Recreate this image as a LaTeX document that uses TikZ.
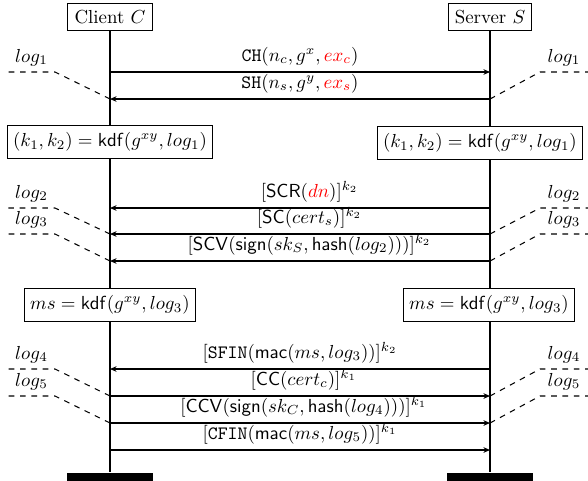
\documentclass[tikz,border=0pt]{standalone}
\usepackage{xcolor}
\usetikzlibrary{arrows.meta}

\begin{document}
\begin{tikzpicture}[x=0.53pt, y=-0.53pt, line width=0.55pt,
  actor/.style={draw, fill=white, inner sep=3.5pt, minimum height=13pt},
  derive/.style={draw, fill=white, inner sep=3pt, minimum height=17.5pt},
  bar/.style={fill=black, minimum width=45.5pt, minimum height=10pt, inner sep=0pt},
  msg/.style={-{Stealth[length=3.5pt, width=3pt]}},
  lbl/.style={above, inner sep=3pt},
  logl/.style={dashed},
  loglbl/.style={above, inner sep=3pt}]

  \useasboundingbox (0,0) rectangle (588,480);

  % participants
  \node[actor] (cli) at (110,17) {Client $C$};
  \node[actor] (srv) at (490,17) {Server $S$};
  \node[bar, anchor=north] (cbar) at (110,472) {};
  \node[bar, anchor=north] (sbar) at (490,472) {};
  \draw (cli.south) -- (cbar.north);
  \draw (srv.south) -- (sbar.north);

  % message heights on both lifelines
  \foreach \i/\y in {1/72, 2/99, 3/208, 4/234, 5/261, 6/369, 7/396, 8/423, 9/450}{
    \coordinate (c\i) at (110,\y);
    \coordinate (s\i) at (490,\y);
  }
  \coordinate (lk) at (55,0);
  \coordinate (le) at (8,0);
  \coordinate (rk) at (540,0);
  \coordinate (re) at (588,0);

  % key derivations
  \node[derive] (kc) at (110,142) {$(k_1, k_2) = \mathsf{kdf}(g^{xy}, log_1)$};
  \node[derive, anchor=east] (ks) at (583,143) {$(k_1, k_2) = \mathsf{kdf}(g^{xy}, log_1)$};
  \node[derive] (mc) at (110,305) {$ms = \mathsf{kdf}(g^{xy}, log_3)$};
  \node[derive] (ms) at (489,305) {$ms = \mathsf{kdf}(g^{xy}, log_3)$};

  % messages
  \draw[msg] (c1) -- node[lbl]{\texttt{CH}$(n_c, g^x, \textcolor{red}{ex_c})$} (s1);
  \draw[msg] (s2) -- node[lbl]{\texttt{SH}$(n_s, g^y, \textcolor{red}{ex_s})$} (c2);
  \draw[msg] (s3) -- node[lbl, xshift=5pt]{$[\mathsf{SCR}(\textcolor{red}{dn})]^{k_2}$} (c3);
  \draw[msg] (s4) -- node[lbl, xshift=5pt]{$[\mathsf{SC}(cert_s)]^{k_2}$} (c4);
  \draw[msg] (s5) -- node[lbl, xshift=5pt]{$[\mathsf{SCV}(\mathsf{sign}(sk_S, \mathsf{hash}(log_2)))]^{k_2}$} (c5);
  \draw[msg] (s6) -- node[lbl]{$[\mathtt{SFIN}(\mathsf{mac}(ms, log_3))]^{k_2}$} (c6);
  \draw[msg] (c7) -- node[lbl, xshift=2pt]{$[\mathsf{CC}(cert_c)]^{k_1}$} (s7);
  \draw[msg] (c8) -- node[lbl, xshift=2pt]{$[\mathsf{CCV}(\mathsf{sign}(sk_C, \mathsf{hash}(log_4)))]^{k_1}$} (s8);
  \draw[msg] (c9) -- node[lbl]{$[\mathtt{CFIN}(\mathsf{mac}(ms, log_5))]^{k_1}$} (s9);

  % transcripts, client side
  \draw[logl] (c2) -- (c1 -| lk) -- node[loglbl]{$log_1$} (c1 -| le);
  \draw[logl] (c4) -- (c3 -| lk) -- node[loglbl]{$log_2$} (c3 -| le);
  \draw[logl] (c5) -- (c4 -| lk) -- node[loglbl]{$log_3$} (c4 -| le);
  \draw[logl] (c7) -- (c6 -| lk) -- node[loglbl]{$log_4$} (c6 -| le);
  \draw[logl] (c8) -- (c7 -| lk) -- node[loglbl]{$log_5$} (c7 -| le);

  % transcripts, server side
  \draw[logl] (s2) -- (s1 -| rk) -- node[loglbl]{$log_1$} (s1 -| re);
  \draw[logl] (s4) -- (s3 -| rk) -- node[loglbl]{$log_2$} (s3 -| re);
  \draw[logl] (s5) -- (s4 -| rk) -- node[loglbl]{$log_3$} (s4 -| re);
  \draw[logl] (s7) -- (s6 -| rk) -- node[loglbl]{$log_4$} (s6 -| re);
  \draw[logl] (s8) -- (s7 -| rk) -- node[loglbl]{$log_5$} (s7 -| re);
\end{tikzpicture}
\end{document}
